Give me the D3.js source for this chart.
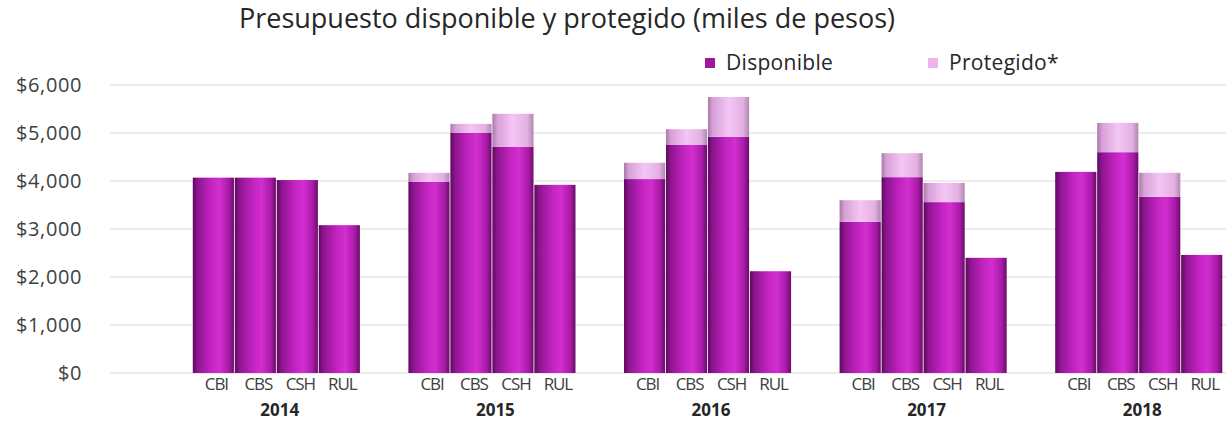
<!DOCTYPE html>
<html><head><meta charset="utf-8">
<script src="https://cdn.jsdelivr.net/npm/d3@7"></script>
<style>body{margin:0;background:#fff;}svg{display:block;}</style>
</head><body>
<svg id="chart" width="1226" height="430"></svg>
<script>
const years = ["2014","2015","2016","2017","2018"];
const categories = ["CBI","CBS","CSH","RUL"];
const disponible = [
  [4070,4070,4020,3080],
  [3980,5000,4710,3920],
  [4040,4750,4920,2120],
  [3150,4080,3560,2400],
  [4190,4600,3670,2460]
];
const protegido = [
  [0,0,0,0],
  [190,190,690,0],
  [340,330,830,0],
  [450,500,400,0],
  [0,610,500,0]
];
const yTicks = [0,1000,2000,3000,4000,5000,6000];
const seriesNames = ["Disponible","Protegido*"];

const svg = d3.select("#chart");
const font = "'Open Sans', sans-serif";
const y = d3.scaleLinear().domain([0,6000]).range([373,85]);
const x0 = d3.scaleBand().domain(years).range([168,1246]).padding(0);
const bw = x0.bandwidth();
const x1 = d3.scaleBand().domain(categories).range([0.115*bw,0.89*bw]).paddingInner(0.02);

const defs = svg.append("defs");
function grad(id, stops){
  const g = defs.append("linearGradient").attr("id",id).attr("x1","0%").attr("x2","100%").attr("y1","0%").attr("y2","0%");
  stops.forEach(([o,c])=>g.append("stop").attr("offset",o).attr("stop-color",c));
}
grad("gDisp",[["0%","#5e0a5c"],["12%","#8e1590"],["45%","#c424c2"],["65%","#d22ed0"],["88%","#a81aa6"],["100%","#6a0c68"]]);
grad("gProt",[["0%","#a87aa8"],["12%","#d8a0d8"],["50%","#f4c6f4"],["85%","#e2b0e2"],["100%","#b088b0"]]);

// gridlines
svg.append("g").selectAll("line").data(yTicks).join("line")
  .attr("x1",110).attr("x2",1226)
  .attr("y1",d=>y(d)).attr("y2",d=>y(d))
  .attr("stroke","#d9d9d9").attr("stroke-width",1);

// y axis labels
const yAxis = d3.axisLeft(y).tickValues(yTicks).tickSize(0).tickPadding(0)
  .tickFormat(d=>"$"+d3.format(",")(d));
const ya = svg.append("g").attr("transform","translate(82,0)").call(yAxis);
ya.select(".domain").remove();
ya.selectAll("text").attr("font-family",font).attr("font-size",20).attr("letter-spacing",0.6).attr("fill","#404040");

// bars
const rows = [];
years.forEach((yr,i)=>categories.forEach((c,j)=>rows.push({yr,c,d:disponible[i][j],p:protegido[i][j]})));
const g = svg.append("g");
g.selectAll("rect.disp").data(rows).join("rect").attr("class","disp")
  .attr("x",r=>x0(r.yr)+x1(r.c)).attr("width",x1.bandwidth())
  .attr("y",r=>y(r.d)).attr("height",r=>y(0)-y(r.d))
  .attr("fill","url(#gDisp)");
g.selectAll("rect.prot").data(rows.filter(r=>r.p>0)).join("rect").attr("class","prot")
  .attr("x",r=>x0(r.yr)+x1(r.c)).attr("width",x1.bandwidth())
  .attr("y",r=>y(r.d+r.p)).attr("height",r=>y(r.d)-y(r.d+r.p))
  .attr("fill","url(#gProt)");

// x labels
const xl = svg.append("g");
xl.selectAll("text.cat").data(rows).join("text").attr("class","cat")
  .attr("x",r=>x0(r.yr)+x1(r.c)+x1.bandwidth()/2+3).attr("y",390)
  .attr("text-anchor","middle").attr("font-family",font).attr("font-size",17)
  .attr("fill","#404040").attr("letter-spacing",-1.1).text(r=>r.c);
xl.selectAll("text.yr").data(years).join("text").attr("class","yr")
  .attr("x",d=>x0(d)+bw*0.5+4).attr("y",416)
  .attr("text-anchor","middle").attr("font-family",font).attr("font-size",17)
  .attr("font-weight","bold").attr("fill","#262626").text(d=>d);

// title
svg.append("text").attr("x",567).attr("y",28).attr("text-anchor","middle")
  .attr("font-family",font).attr("font-size",27).attr("fill","#262626")
  .text("Presupuesto disponible y protegido (miles de pesos)");

// legend
const legX = [705,928];
const legFill = ["#a0189e","#eeb2ee"];
const lg = svg.append("g");
seriesNames.forEach((n,i)=>{
  lg.append("rect").attr("x",legX[i]).attr("y",58).attr("width",10).attr("height",10).attr("fill",legFill[i]);
  lg.append("text").attr("x",legX[i]+21).attr("y",70).attr("font-family",font).attr("font-size",21)
    .attr("letter-spacing",0.3).attr("fill","#262626").text(n);
});
</script>
</body></html>
